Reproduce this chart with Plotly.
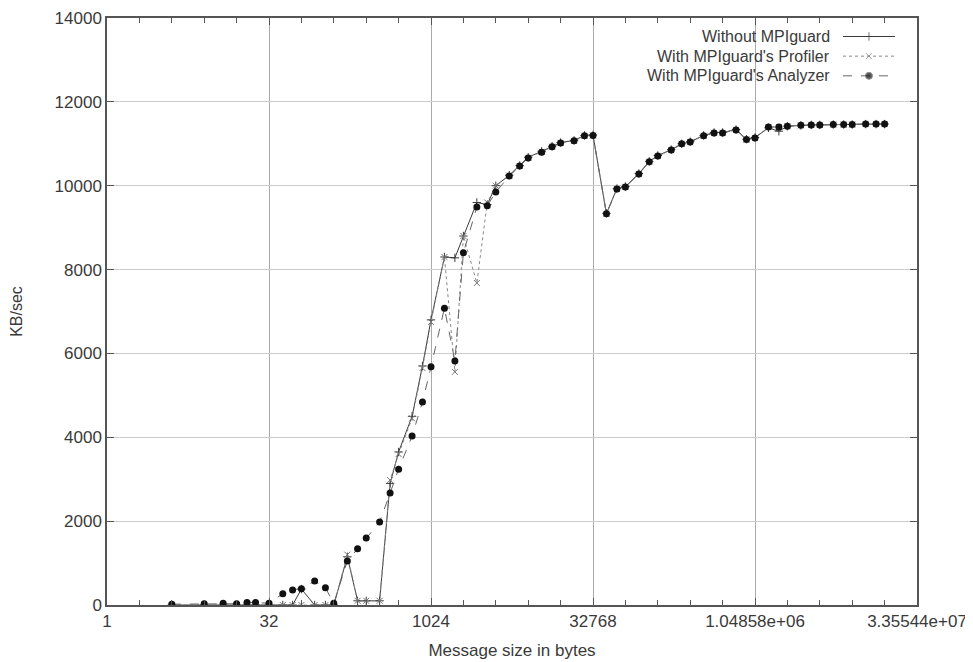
import plotly.graph_objects as go

# Message sizes (bytes)
sizes = [4, 8, 12, 16, 20, 24, 32, 43, 53, 64, 85, 107, 128, 171, 213, 256, 341, 427,
         512, 683, 853, 1024, 1365, 1707, 2048, 2731, 3413, 4096, 5461, 6827, 8192,
         10923, 13653, 16384, 21845, 27307, 32768, 43691, 54613, 65536, 87381, 109227,
         131072, 174763, 218453, 262144, 349525, 436907, 524288, 699051, 873813,
         1048576, 1398101, 1747627, 2097152, 2796203, 3495253, 4194304, 5592405,
         6990507, 8388608, 11184811, 13981013, 16777216]

without_mpiguard = [0, 0, 0, 0, 0, 0, 0, 0, 0, 380, 0, 0, 0, 1150, 100, 100, 100, 2900,
                    3650, 4500, 5700, 6800, 8300, 8280, 8800, 9600, 9550, 10000, 10250,
                    10480, 10680, 10820, 10940, 11030, 11080, 11200, 11210, 9340, 9930,
                    9980, 10290, 10580, 10720, 10860, 11000, 11050, 11200, 11270, 11270,
                    11340, 11110, 11150, 11380, 11300, 11420, 11440, 11450, 11450, 11460,
                    11460, 11460, 11470, 11470, 11470]

with_profiler = [0, 0, 0, 0, 0, 0, 0, 0, 0, 0, 0, 0, 0, 1200, 100, 100, 100, 2980,
                 3600, 4450, 5650, 6750, 8300, 5560, 8800, 7680, 9600, 10000, 10240,
                 10470, 10670, 10810, 10930, 11020, 11070, 11190, 11200, 9330, 9920,
                 9970, 10280, 10570, 10710, 10850, 11000, 11040, 11190, 11260, 11260,
                 11330, 11100, 11140, 11400, 11400, 11420, 11440, 11450, 11450, 11460,
                 11460, 11460, 11470, 11470, 11470]

with_analyzer = [20, 30, 40, 30, 60, 60, 40, 270, 360, 390, 570, 410, 40, 1050, 1340,
                 1600, 1980, 2670, 3240, 4030, 4840, 5680, 7080, 5820, 8400, 9490, 9520,
                 9850, 10230, 10470, 10660, 10800, 10930, 11020, 11070, 11190, 11200,
                 9330, 9920, 9970, 10280, 10570, 10710, 10850, 11000, 11040, 11190,
                 11260, 11260, 11330, 11100, 11140, 11400, 11400, 11420, 11440, 11450,
                 11450, 11460, 11460, 11460, 11470, 11470, 11470]

series_names = ["Without MPIguard", "With MPIguard's Profiler", "With MPIguard's Analyzer"]

x_tickvals = [1, 32, 1024, 32768, 1048576, 33554432]
x_ticktext = ["1", "32", "1024", "32768", "1.04858e+06", "3.35544e+07"]
x_minor_vals = [2 ** k for k in range(26)]
y_tickvals = [0, 2000, 4000, 6000, 8000, 10000, 12000, 14000]
y_ticktext = ["0", "2000", "4000", "6000", "8000", "10000", "12000", "14000"]

FONT = "Liberation Sans, Arial, Helvetica, sans-serif"
TXT = "#3a3a3a"

styles = [
    dict(line=dict(color="#3a3a3a", width=1, dash="solid"),
         marker=dict(symbol="cross-thin", size=6, color="#3a3a3a",
                     line=dict(color="#3a3a3a", width=1))),
    dict(line=dict(color="#888888", width=1, dash="dot"),
         marker=dict(symbol="x-thin", size=6, color="#777777",
                     line=dict(color="#777777", width=1))),
    dict(line=dict(color="#666666", width=1, dash="dash"),
         marker=dict(symbol="circle", size=7, color="#111111")),
]

fig = go.Figure()
for name, vals, st in zip(series_names, [without_mpiguard, with_profiler, with_analyzer], styles):
    fig.add_trace(go.Scatter(x=sizes, y=vals, mode="lines+markers", name=name,
                             line=st["line"], marker=st["marker"], showlegend=False))

# Custom gnuplot-style key (text right, sample to the right)
key_y = [0.9685, 0.935, 0.9015]
for name, ky, st in zip(series_names, key_y, styles):
    fig.add_annotation(xref="paper", yref="paper", x=0.895, y=ky, text=name,
                       showarrow=False, xanchor="right", yanchor="middle",
                       font=dict(family=FONT, size=16, color=TXT))
    mk = dict(st["marker"])
    mk["size"] = [0, mk["size"], 0]
    fig.add_trace(go.Scatter(x=[0.9086, 0.9407, 0.9728], y=[ky, ky, ky],
                             mode="lines+markers", line=st["line"], marker=mk,
                             xaxis="x2", yaxis="y2", showlegend=False, hoverinfo="skip"))

# invisible trace to activate top minor-tick axis
fig.add_trace(go.Scatter(x=[1], y=[0], xaxis="x3", mode="markers",
                         marker=dict(size=0, opacity=0), showlegend=False, hoverinfo="skip"))

fig.update_layout(
    width=965, height=654,
    margin=dict(l=99, r=56, t=10, b=57),
    paper_bgcolor="white", plot_bgcolor="white",
    font=dict(family=FONT, size=17, color=TXT),
    xaxis=dict(type="log", range=[0, 7.52575], tickmode="array",
               tickvals=x_tickvals, ticktext=x_ticktext, automargin=False,
               showgrid=True, gridcolor="#aaaaaa", gridwidth=1,
               showline=True, linecolor="#555555", linewidth=1.5, mirror=True,
               ticks="inside", ticklen=7, tickcolor="#555555",
               minor=dict(tickmode="array", tickvals=x_minor_vals, ticks="inside",
                          ticklen=5, tickcolor="#555555", showgrid=False),
               tickfont=dict(family=FONT, size=17, color=TXT),
               title=dict(text="Message size in bytes", standoff=14,
                          font=dict(family=FONT, size=17, color=TXT)),
               zeroline=False),
    xaxis3=dict(type="log", range=[0, 7.52575], overlaying="x", side="top",
                tickmode="array", tickvals=x_tickvals, showticklabels=False,
                showgrid=False, ticks="inside", ticklen=7, tickcolor="#555555",
                minor=dict(tickmode="array", tickvals=x_minor_vals, ticks="inside",
                           ticklen=5, tickcolor="#555555", showgrid=False),
                automargin=False, zeroline=False),
    yaxis=dict(range=[0, 14000], tickmode="array", tickvals=y_tickvals,
               ticktext=y_ticktext, automargin=False,
               showgrid=True, gridcolor="#cccccc", gridwidth=1,
               showline=True, linecolor="#555555", linewidth=1.5, mirror="ticks",
               ticks="inside", ticklen=7, tickcolor="#555555",
               tickfont=dict(family=FONT, size=17, color=TXT),
               title=dict(text="KB/sec", standoff=30,
                          font=dict(family=FONT, size=16, color=TXT)),
               zeroline=False),
    xaxis2=dict(overlaying="x", range=[0, 1], visible=False, showgrid=False),
    yaxis2=dict(overlaying="y", range=[0, 1], visible=False, showgrid=False),
)

fig.write_html("out.html")
